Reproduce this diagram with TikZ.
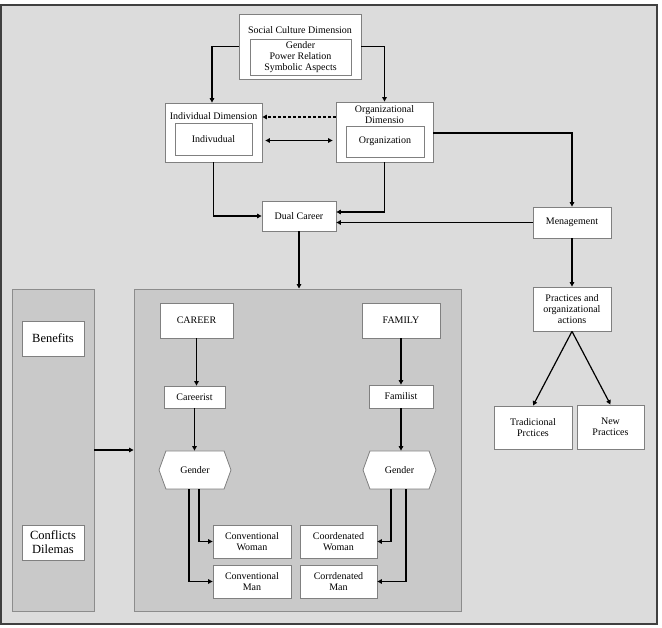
\documentclass[tikz,border=0pt]{standalone}
\usepackage{fontspec}
\setmainfont{Liberation Serif}
\usetikzlibrary{arrows.meta,shapes.symbols}
\definecolor{bgc}{HTML}{DCDCDC}
\definecolor{panelc}{HTML}{C9C9C9}
\definecolor{panelb}{HTML}{8C8C8C}
\definecolor{boxb}{HTML}{808080}
\tikzset{
  box/.style={draw=boxb, fill=white, line width=0.8pt, inner sep=0pt, align=center,
    font=\fontsize{10}{11}\selectfont},
  lbl/.style={inner sep=0pt, align=center, font=\fontsize{10}{11}\selectfont},
  panel/.style={draw=panelb, fill=panelc, line width=0.9pt, inner sep=0pt},
  hexbox/.style={signal, signal to=west and east, signal pointer angle=140,
    draw=boxb, fill=white, line width=0.8pt, inner sep=0pt,
    font=\fontsize{10}{11}\selectfont},
  arr/.style={line width=1.2pt, -{Triangle[length=4.5pt,width=4.5pt]}},
  darr/.style={line width=1.2pt, {Triangle[length=4.5pt,width=4.5pt]}-{Triangle[length=4.5pt,width=4.5pt]}},
}
\begin{document}
\begin{tikzpicture}[x=1pt,y=-1pt]
\useasboundingbox (0,0) rectangle (662,628);
\fill[white] (0,0) rectangle (662,628);
\node[draw=black!75, fill=bgc, line width=1.6pt, minimum width=656pt, minimum height=619pt, inner sep=0pt] (frame) at (329,314.5) {};

% top
\node[box, minimum width=122pt, minimum height=65pt] (soc) at (300,46.5) {};
\node[lbl] (soct) at (300,30) {Social Culture Dimension};
\node[box, minimum width=101pt, minimum height=36pt] (socin) at (300.5,57) {Gender\\Power Relation\\Symbolic Aspects};

\node[box, minimum width=97pt, minimum height=59pt] (ind) at (213.5,132.5) {};
\node[lbl] (indt) at (213.5,116) {Individual Dimension};
\node[box, minimum width=77pt, minimum height=32pt] (indin) at (213.5,139) {Indivudual};

\node[box, minimum width=97pt, minimum height=60pt] (org) at (384.5,132) {};
\node[lbl] (orgt) at (384.5,115) {Organizational\\Dimensio};
\node[box, minimum width=78pt, minimum height=31pt] (orgin) at (385,141.5) {Organization};

\node[box, minimum width=74pt, minimum height=30pt] (dual) at (299,216) {Dual Career};
\node[box, minimum width=78pt, minimum height=31pt] (men) at (572,222.5) {Menagement};
\node[box, minimum width=78pt, minimum height=44pt] (prac) at (572,309) {Practices and\\organizational\\actions};
\node[box, minimum width=78pt, minimum height=43pt] (trad) at (533,427.5) {Tradicional\\Prctices};
\node[box, minimum width=67pt, minimum height=44pt] (new) at (610.5,427) {New\\Practices};

% left panel
\node[panel, minimum width=82pt, minimum height=322pt] (left) at (53,450) {};
\node[box, minimum width=62pt, minimum height=35pt, font=\fontsize{12.5}{14}\selectfont] (ben) at (53,338.5) {Benefits};
\node[box, minimum width=62pt, minimum height=35pt, font=\fontsize{12.5}{14}\selectfont] (con) at (53,542.5) {Conflicts\\Dilemas};

% middle panel
\node[panel, minimum width=327pt, minimum height=322pt] (mid) at (297.5,450) {};
\node[box, minimum width=73pt, minimum height=35pt] (career) at (196.5,320.5) {CAREER};
\node[box, minimum width=78pt, minimum height=35pt] (family) at (401,320.5) {FAMILY};
\node[box, minimum width=61pt, minimum height=22pt] (careerist) at (194.5,397) {Careerist};
\node[box, minimum width=64pt, minimum height=23pt] (familist) at (401,396.5) {Familist};
\node[hexbox, minimum width=72pt, minimum height=38pt] (g1) at (195,470) {Gender};
\node[hexbox, minimum width=73pt, minimum height=38pt] (g2) at (399.5,470) {Gender};
\node[box, minimum width=78pt, minimum height=33pt] (cw) at (252,541.5) {Conventional\\Woman};
\node[box, minimum width=78pt, minimum height=33pt] (cm) at (252,581.5) {Conventional\\Man};
\node[box, minimum width=77pt, minimum height=33pt] (ow) at (338.5,541.5) {Coordenated\\Woman};
\node[box, minimum width=77pt, minimum height=33pt] (om) at (338.5,581.5) {Corrdenated\\Man};

% connectors
\draw[arr] (soc.west) -| ([xshift=-1.5pt]ind.north);
\draw[arr] (soc.east) -| (org.north);
\draw[arr, dashed, dash pattern=on 3pt off 2pt] ([yshift=15pt]org.west) -- ([yshift=15pt]org.west -| ind.east);
\draw[darr, shorten <=3pt, shorten >=3pt] ([yshift=-8pt]ind.east) -- ([yshift=-8pt]ind.east -| org.west);
\draw[arr] (ind.south) |- (dual.west);
\draw[arr] (org.south) |- ([yshift=4pt]dual.east);
\draw[arr] (men.west) -- (men.west -| dual.east);
\draw[arr] ([yshift=-1pt]org.east) -| (men.north);
\draw[arr] (dual.south) -- (dual.south |- mid.north);
\draw[arr] (men.south) -- (prac.north);
\draw[arr] (prac.south) -- (trad.north);
\draw[arr] (prac.south) -- (new.north);
\draw[arr] (left.east) -- (mid.west);
\draw[arr] (career.south) -- (career.south |- careerist.north);
\draw[arr] (careerist.south) -- (careerist.south |- g1.north);
\draw[arr] (family.south) -- (familist.north);
\draw[arr] (familist.south) -- (familist.south |- g2.north);
\draw[arr] ([xshift=4pt]g1.south) |- (cw.west);
\draw[arr] ([xshift=-6pt]g1.south) |- (cm.west);
\draw[arr] ([xshift=-8.5pt]g2.south) |- (ow.east);
\draw[arr] ([xshift=6.5pt]g2.south) |- (om.east);
\end{tikzpicture}
\end{document}
